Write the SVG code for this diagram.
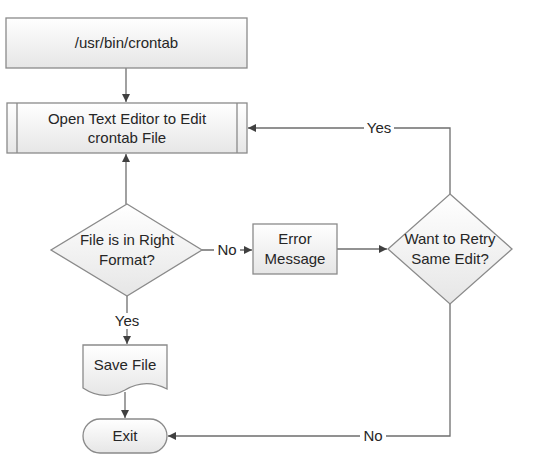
<svg xmlns="http://www.w3.org/2000/svg" width="541" height="464" viewBox="0 0 541 464">
<defs>
<linearGradient id="g" x1="0" y1="0" x2="0" y2="1">
<stop offset="0" stop-color="#ffffff"/>
<stop offset="1" stop-color="#e6e6e6"/>
</linearGradient>
<marker id="ah" viewBox="0 0 10 10" refX="10" refY="5" markerWidth="8" markerHeight="8" markerUnits="userSpaceOnUse" orient="auto">
<path d="M0,0 L10,5 L0,10 z" fill="#404040"/>
</marker>
<style>
.s{fill:url(#g);stroke:#8a8a8a;stroke-width:1.3}
.t{font-family:"Liberation Sans",Arial,sans-serif;font-size:15px;fill:#262626;text-anchor:middle}
.c{fill:none;stroke:#6e6e6e;stroke-width:1.3}
.l{font-family:"Liberation Sans",Arial,sans-serif;font-size:15px;fill:#262626;text-anchor:middle}
.bg{fill:#ffffff}
</style>
</defs>
<rect width="541" height="464" fill="#ffffff"/>
<g id="connectors">
<path class="c" d="M126,68 V102" marker-end="url(#ah)"/>
<path class="c" d="M126,204 V154" marker-end="url(#ah)"/>
<path class="c" d="M202,250 H252" marker-end="url(#ah)"/>
<path class="c" d="M337,249 H387" marker-end="url(#ah)"/>
<path class="c" d="M450,194 V128 H248" marker-end="url(#ah)"/>
<path class="c" d="M127,296 V344" marker-end="url(#ah)"/>
<path class="c" d="M125,392 V418" marker-end="url(#ah)"/>
<path class="c" d="M450,304 V436 H168" marker-end="url(#ah)"/>
<rect class="bg" x="214" y="242" width="26" height="16"/>
<text class="l" x="227" y="255">No</text>
<rect class="bg" x="364" y="120" width="30" height="16"/>
<text class="l" x="379" y="133">Yes</text>
<rect class="bg" x="112" y="313" width="30" height="16"/>
<text class="l" x="127" y="326">Yes</text>
<rect class="bg" x="360" y="428" width="26" height="16"/>
<text class="l" x="373" y="441">No</text>
</g>
<g id="crontab">
<rect class="s" x="6" y="18" width="241" height="50"/>
<text class="t" x="126.5" y="48">/usr/bin/crontab</text>
</g>
<g id="open-editor">
<rect class="s" x="7" y="103" width="240" height="50"/>
<path class="c" d="M17,103 V153 M237,103 V153" style="stroke:#8a8a8a"/>
<text class="t" x="127" y="124">Open Text Editor to Edit</text>
<text class="t" x="127" y="143">crontab File</text>
</g>
<g id="right-format">
<polygon class="s" points="127,204 202,250 127,296 51,250"/>
<text class="t" x="127" y="245">File is in Right</text>
<text class="t" x="127" y="265">Format?</text>
</g>
<g id="error">
<rect class="s" x="253" y="224" width="84" height="50"/>
<text class="t" x="295" y="244">Error</text>
<text class="t" x="295" y="264">Message</text>
</g>
<g id="retry">
<polygon class="s" points="450,194 512,249 450,304 388,249"/>
<text class="t" x="450" y="244">Want to Retry</text>
<text class="t" x="450" y="264">Same Edit?</text>
</g>
<g id="save">
<path class="s" d="M83,345 H167 V389 C150,380 135,384 125,390 C112,397 98,398 83,388 Z"/>
<text class="t" x="125" y="370">Save File</text>
</g>
<g id="exit">
<rect class="s" x="83" y="419" width="84" height="34" rx="17" ry="17"/>
<text class="t" x="125" y="441">Exit</text>
</g>
</svg>
